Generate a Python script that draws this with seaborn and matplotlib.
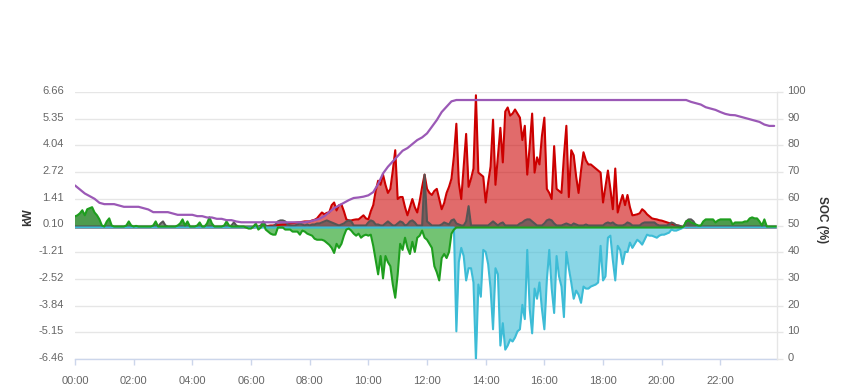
import numpy as np
import matplotlib
matplotlib.use("Agg")
import matplotlib.pyplot as plt
import matplotlib.transforms as mtransforms
import seaborn as sns

# ---------------- data (5-minute samples, kW) ----------------
minutes = np.arange(0, 1440, 5)

solar_kw = [
    0, 0, 0, 0, 0, 0, 0, 0, 0, 0, 0, 0,
    0, 0, 0, 0, 0, 0, 0, 0, 0, 0, 0, 0,
    0, 0, 0, 0, 0, 0, 0, 0, 0, 0, 0, 0,
    0, 0, 0, 0, 0, 0, 0, 0, 0, 0, 0, 0,
    0, 0, 0, 0, 0, 0, 0, 0, 0, 0, 0, 0,
    0, 0, 0, 0, 0, 0, 0, 0, 0, 0, 0, 0,
    0, 0, 0.02, 0.03, 0.04, 0.05, 0.07, 0.08, 0.1, 0.1, 0.12, 0.12,
    0.14, 0.15, 0.15, 0.17, 0.2, 0.22, 0.23, 0.25, 0.26, 0.28, 0.3, 0.3,
    0.3, 0.35, 0.38, 0.45, 0.6, 0.74, 0.65, 0.72, 0.75, 1.1, 1.23, 0.84,
    1.1, 1.13, 0.8, 0.4, 0.35, 0.35, 0.38, 0.4, 0.4, 0.5, 0.6, 0.45,
    0.4, 0.8, 1.1, 1.8, 2.3, 2.1, 2.6, 2.1, 1.7, 1.9, 2.8, 3.8,
    1.4, 1.5, 1.5, 1.0, 0.6, 1.0, 1.4, 1.0, 0.74, 1.3, 2.0, 2.6,
    1.9, 1.7, 1.6, 1.8, 1.9, 1.4, 0.9, 1.2, 1.7, 2.0, 2.4, 3.5,
    5.1, 2.2, 1.4, 3.0, 4.6, 2.0, 2.4, 2.9, 6.5, 2.7, 2.6, 2.5,
    1.23, 2.2, 3.0, 5.3, 2.1, 3.5, 4.9, 3.2, 5.7, 5.9, 5.5, 5.6,
    5.8, 5.6, 5.4, 4.3, 5.0, 2.6, 4.0, 5.6, 2.7, 3.45, 3.1, 4.5,
    5.4, 1.9, 1.7, 1.4, 4.0, 1.9, 1.8, 1.7, 3.5, 5.0, 1.5, 3.8,
    3.55, 2.5, 1.7, 2.8, 3.7, 3.3, 3.1, 3.1, 3.0, 2.9, 2.8, 2.7,
    1.23, 2.0, 2.8, 1.9, 0.9, 2.9, 0.74, 1.2, 1.6, 1.1, 1.6, 1.0,
    0.6, 0.62, 0.65, 0.7, 0.9, 0.8, 0.65, 0.55, 0.45, 0.42, 0.4, 0.36,
    0.34, 0.3, 0.26, 0.22, 0.2, 0.15, 0.12, 0.08, 0.05, 0.02, 0, 0,
    0, 0, 0, 0, 0, 0, 0, 0, 0, 0, 0, 0,
    0, 0, 0, 0, 0, 0, 0, 0, 0, 0, 0, 0,
    0, 0, 0, 0, 0, 0, 0, 0, 0, 0, 0, 0,
]

battery_kw = [
    0.55, 0.6, 0.7, 0.85, 0.6, 0.9, 0.95, 1.0, 0.74, 0.6, 0.4, 0.1,
    0.05, 0.3, 0.45, 0.1, 0.05, 0.05, 0.05, 0.05, 0.05, 0.1, 0.3, 0.1,
    0.05, 0.08, 0.05, 0.05, 0.05, 0.05, 0.05, 0.05, 0.1, 0.3, 0.05, 0.05,
    0.05, 0.05, 0.05, 0.05, 0.05, 0.05, 0.1, 0.2, 0.4, 0.1, 0.3, 0.05,
    0.05, 0.05, 0.1, 0.25, 0.05, 0.05, 0.2, 0.5, 0.2, 0.05, 0.05, 0.05,
    0.05, 0.1, 0.3, 0.1, 0.05, 0.05, 0.05, 0.05, 0.05, 0.05, 0.0, -0.05,
    -0.05, 0.05, 0.2, -0.1, 0.0, 0.25, -0.1, -0.2, -0.3, -0.35, -0.35, 0.0,
    0.0, 0.0, -0.1, -0.1, -0.1, -0.2, -0.2, -0.2, -0.35, -0.15, -0.2, -0.3,
    -0.35, -0.4, -0.55, -0.6, -0.6, -0.6, -0.65, -0.75, -0.85, -1.0, -1.25, -0.8,
    -1.0, -0.8, -0.4, -0.1, -0.05, -0.15, -0.3, -0.4, -0.3, -0.5, -0.4, -0.35,
    -0.4, -0.35, -0.9, -1.6, -2.3, -1.4, -2.5, -1.4, -1.7, -1.9, -2.8, -3.45,
    -2.3, -0.8, -1.1, -0.5, -1.0, -1.3, -0.7, -1.2, -0.5, -0.4, -0.15, -0.5,
    -0.6, -0.8, -1.0, -1.9, -2.2, -2.6, -1.5, -1.3, -1.5, -1.2, -0.3, -0.1,
    0, 0, 0, 0, 0, 0, 0, 0, 0, 0, 0, 0,
    0, 0, 0, 0, 0, 0, 0, 0, 0, 0, 0, 0,
    0, 0, 0, 0, 0, 0, 0, 0, 0, 0, 0, 0,
    0, 0, 0, 0, 0, 0, 0, 0, 0, 0, 0, 0,
    0, 0, 0, 0, 0, 0, 0, 0, 0, 0, 0, 0,
    0, 0, 0, 0, 0, 0, 0, 0, 0, 0, 0, 0,
    0, 0, 0, 0, 0, 0, 0, 0, 0, 0, 0, 0,
    0, 0, 0, 0, 0, 0, 0, 0, 0, 0.05, 0.3, 0.35,
    0.25, 0.2, 0.15, 0.1, 0.1, 0.3, 0.4, 0.4, 0.4, 0.4, 0.25, 0.35,
    0.4, 0.4, 0.4, 0.4, 0.4, 0.15, 0.25, 0.25, 0.25, 0.25, 0.3, 0.3,
    0.45, 0.5, 0.45, 0.45, 0.3, 0.1, 0.4, 0.05, 0.05, 0.05, 0.05, 0.05,
]

grid_kw = [
    0, 0, 0, 0, 0, 0, 0, 0, 0, 0, 0, 0,
    0, 0, 0, 0, 0, 0, 0, 0, 0, 0, 0, 0,
    0, 0, 0, 0, 0, 0, 0, 0, 0, 0, 0, 0,
    0, 0, 0, 0, 0, 0, 0, 0, 0, 0, 0, 0,
    0, 0, 0, 0, 0, 0, 0, 0, 0, 0, 0, 0,
    0, 0, 0, 0, 0, 0, 0, 0, 0, 0, 0, 0,
    0, 0, 0, 0, 0, 0, 0, 0, 0, 0, 0, 0,
    0, 0, 0, 0, 0, 0, 0, 0, 0, 0, 0, 0,
    0, 0, 0, 0, 0, 0, 0, 0, 0, 0, 0, 0,
    0, 0, 0, 0, 0, 0, 0, 0, 0, 0, 0, 0,
    0, 0, 0, 0, 0, 0, 0, 0, 0, 0, 0, 0,
    0, 0, 0, 0, 0, 0, 0, 0, 0, 0, 0, 0,
    0, 0, 0, 0, 0, 0, 0, 0, 0, 0, 0, 0,
    -5.1, -1.7, -1.0, -1.4, -2.6, -2.0, -2.0, -2.7, -6.5, -2.8, -3.4, -1.1,
    -1.2, -1.8, -3.0, -5.0, -2.0, -2.3, -5.8, -4.7, -6.0, -5.8, -5.5, -5.6,
    -5.4, -5.1, -5.0, -3.8, -4.5, -1.1, -4.0, -5.2, -3.0, -3.5, -2.7, -4.0,
    -5.0, -2.6, -1.1, -3.0, -4.2, -1.4, -2.4, -2.9, -4.4, -1.2, -2.0, -2.7,
    -3.5, -3.1, -3.3, -3.7, -2.9, -3.0, -3.0, -2.9, -2.85, -2.8, -2.7, -0.9,
    -2.6, -2.4, -0.5, -0.4, -1.6, -2.6, -0.9, -1.1, -1.8, -1.2, -1.2, -0.74,
    -1.0, -0.8, -0.6, -0.7, -0.84, -0.6, -0.35, -0.4, -0.4, -0.45, -0.5, -0.4,
    -0.35, -0.35, -0.3, -0.25, -0.1, -0.15, -0.15, -0.1, -0.05, 0, 0, 0,
    0, 0, 0, 0, 0, 0, 0, 0, 0, 0, 0, 0,
    0, 0, 0, 0, 0, 0, 0, 0, 0, 0, 0, 0,
    0, 0, 0, 0, 0, 0, 0, 0, 0, 0, 0, 0,
]

import_kw = [
    0.05, 0.05, 0.05, 0.05, 0.05, 0.05, 0.05, 0.05, 0.05, 0.05, 0.05, 0.05,
    0.05, 0.05, 0.05, 0.05, 0.05, 0.05, 0.05, 0.05, 0.05, 0.05, 0.05, 0.05,
    0.05, 0.05, 0.05, 0.05, 0.05, 0.05, 0.05, 0.05, 0.05, 0.05, 0.05, 0.2,
    0.3, 0.1, 0.05, 0.05, 0.05, 0.05, 0.05, 0.05, 0.05, 0.05, 0.05, 0.05,
    0.05, 0.05, 0.05, 0.05, 0.05, 0.05, 0.05, 0.05, 0.05, 0.05, 0.05, 0.05,
    0.05, 0.05, 0.05, 0.05, 0.1, 0.25, 0.1, 0.05, 0.05, 0.05, 0.05, 0.05,
    0.05, 0.05, 0.05, 0.05, 0.1, 0.3, 0.1, 0.05, 0.05, 0.05, 0.15, 0.3,
    0.35, 0.35, 0.3, 0.15, 0.1, 0.1, 0.1, 0.15, 0.2, 0.15, 0.1, 0.15,
    0.1, 0.15, 0.15, 0.2, 0.2, 0.25, 0.3, 0.35, 0.3, 0.25, 0.2, 0.15,
    0.1, 0.15, 0.2, 0.3, 0.35, 0.3, 0.1, 0.1, 0.1, 0.1, 0.1, 0.1,
    0.25, 0.35, 0.3, 0.15, 0.15, 0.1, 0.1, 0.2, 0.3, 0.2, 0.1, 0.1,
    0.2, 0.3, 0.25, 0.1, 0.15, 0.3, 0.35, 0.25, 0.1, 0.1, 0.1, 2.6,
    0.3, 0.2, 0.1, 0.1, 0.1, 0.1, 0.15, 0.25, 0.2, 0.15, 0.35, 0.4,
    0.2, 0.15, 0.1, 0.1, 0.3, 1.05, 0.1, 0.1, 0.1, 0.1, 0.1, 0.1,
    0.1, 0.1, 0.2, 0.3, 0.2, 0.1, 0.2, 0.25, 0.1, 0.1, 0.1, 0.1,
    0.1, 0.1, 0.2, 0.25, 0.35, 0.4, 0.4, 0.3, 0.2, 0.1, 0.1, 0.1,
    0.2, 0.35, 0.4, 0.35, 0.2, 0.1, 0.1, 0.1, 0.15, 0.2, 0.15, 0.1,
    0.2, 0.15, 0.1, 0.1, 0.1, 0.15, 0.1, 0.1, 0.1, 0.1, 0.1, 0.1,
    0.1, 0.2, 0.25, 0.2, 0.25, 0.15, 0.1, 0.1, 0.1, 0.15, 0.25, 0.2,
    0.1, 0.1, 0.1, 0.1, 0.2, 0.25, 0.25, 0.25, 0.25, 0.25, 0.15, 0.1,
    0.1, 0.1, 0.1, 0.15, 0.25, 0.2, 0.1, 0.1, 0.05, 0.05, 0.3, 0.4,
    0.4, 0.3, 0.1, 0.05, 0.05, 0.05, 0.05, 0.05, 0.05, 0.05, 0.05, 0.05,
    0.05, 0.05, 0.05, 0.05, 0.05, 0.05, 0.05, 0.05, 0.05, 0.05, 0.05, 0.05,
    0.05, 0.05, 0.05, 0.05, 0.05, 0.05, 0.05, 0.05, 0.05, 0.05, 0.05, 0.05,
]

# state of charge, 10-minute samples (%)
soc_minutes = np.arange(0, 1440, 10)
soc_pct = [
    65, 63.5, 62, 61, 60, 58.5,
    58, 58, 58, 57.5, 57, 57,
    57, 57, 56.5, 56, 55, 55,
    55, 55, 54.5, 54, 54, 54,
    54, 53.5, 53.5, 53, 53, 52.5,
    52.5, 52, 52, 51.5, 51.2, 51.2,
    51.2, 51.2, 51.2, 51.2, 51.2, 51.2,
    51.2, 51.2, 51.2, 51.2, 51.2, 51.2,
    51.5, 52, 52.5, 53.5, 55, 56.5,
    57.5, 58.5, 59.5, 60.3, 60.5, 60.8,
    61.3, 62.5, 65.5, 69.5, 72, 74,
    76, 78, 79, 80.5, 82, 83,
    84.5, 87, 89.5, 92.5, 94.5, 96.5,
    97, 97, 97, 97, 97, 97,
    97, 97, 97, 97, 97, 97,
    97, 97, 97, 97, 97, 97,
    97, 97, 97, 97, 97, 97,
    97, 97, 97, 97, 97, 97,
    97, 97, 97, 97, 97, 97,
    97, 97, 97, 97, 97, 97,
    97, 97, 97, 97, 97, 97,
    96.3, 95.8, 95.3, 94.3, 93.8, 93.3,
    92.5, 91.8, 91.4, 91.3, 90.8, 90.3,
    89.8, 89.3, 88.8, 87.8, 87.3, 87.3,
]

kw_ticks = [6.66, 5.35, 4.04, 2.72, 1.41, 0.10, -1.21, -2.52, -3.84, -5.15, -6.46]
kw_labels = ["6.66", "5.35", "4.04", "2.72", "1.41", "0.10", "-1.21", "-2.52", "-3.84", "-5.15", "-6.46"]
soc_ticks = [0, 10, 20, 30, 40, 50, 60, 70, 80, 90, 100]
hour_ticks = [0, 2, 4, 6, 8, 10, 12, 14, 16, 18, 20, 22]
hour_labels = ["00:00", "02:00", "04:00", "06:00", "08:00", "10:00",
               "12:00", "14:00", "16:00", "18:00", "20:00", "22:00"]

# ---------------- styling ----------------
sns.set_theme(style="white")
plt.rcParams['font.family'] = ['Liberation Sans', 'DejaVu Sans']

W, H = 849, 390
fig = plt.figure(figsize=(W / 100, H / 100), dpi=100)
x0, x1, yt, yb = 75, 777, 92, 359
ax = fig.add_axes([x0 / W, 1 - yb / H, (x1 - x0) / W, (yb - yt) / H])
ax2 = ax.twinx()

hrs = minutes / 60.0
soc_hrs = soc_minutes / 60.0
solar = np.array(solar_kw, dtype=float)
batt = np.array(battery_kw, dtype=float)
grid = np.array(grid_kw, dtype=float)
imp = np.array(import_kw, dtype=float)

RED = "#cc0000"
GREEN = "#1e9e1e"
CYAN = "#3dbcd6"
GRAY = "#555555"
PURPLE = "#9b59b6"

# fills
ax.fill_between(hrs, solar, 0, color=RED, alpha=0.58, linewidth=0, zorder=2)
ax.fill_between(hrs, grid, 0, color=CYAN, alpha=0.6, linewidth=0, zorder=2)
ax.fill_between(hrs, batt, 0, where=batt <= 0, interpolate=True,
                color=GREEN, alpha=0.62, linewidth=0, zorder=2)
ax.fill_between(hrs, batt, 0, where=batt >= 0, interpolate=True,
                color="#2f8a2f", alpha=0.85, linewidth=0, zorder=2)
ax.fill_between(hrs, imp, 0, color=GRAY, alpha=0.7, linewidth=0, zorder=3)

# lines via seaborn
lw = 1.5
sns.lineplot(x=hrs, y=solar, ax=ax, color=RED, linewidth=lw, zorder=4)
sns.lineplot(x=hrs, y=imp, ax=ax, color=GRAY, linewidth=lw, zorder=4.2)
sns.lineplot(x=hrs, y=grid, ax=ax, color=CYAN, linewidth=lw, zorder=4.4)
sns.lineplot(x=hrs, y=batt, ax=ax, color=GREEN, linewidth=lw, zorder=4.6)
sns.lineplot(x=soc_hrs, y=soc_pct, ax=ax2, color=PURPLE, linewidth=1.6, zorder=6)

ax.set_xlim(0, 23.93)
ax.set_ylim(-6.46, 6.66)
ax2.set_ylim(0, 100)

ax.set_yticks(kw_ticks)
ax.set_yticklabels(kw_labels)
ax2.set_yticks(soc_ticks)
ax2.set_yticklabels([str(v) for v in soc_ticks])
ax.set_xticks(hour_ticks)
ax.set_xticklabels(hour_labels)

ax.grid(False)
ax2.grid(False)
ax.yaxis.grid(True, color="#e6e6e6", linewidth=1.0, zorder=0)
ax.set_axisbelow(True)

for a in (ax, ax2):
    for s in ("top", "left"):
        a.spines[s].set_visible(False)
ax.spines["right"].set_visible(False)
ax2.spines["bottom"].set_visible(False)
ax2.spines["right"].set_color("#e6e6e6")
ax2.spines["right"].set_linewidth(1.0)
ax.spines["bottom"].set_color("#ccd6eb")
ax.spines["bottom"].set_linewidth(1.0)

ax.tick_params(axis="x", colors="#ccd6eb", length=4, width=1, direction="out",
               labelcolor="#666666", labelsize=8, pad=8, bottom=True)
ax.tick_params(axis="y", length=0, labelcolor="#666666", labelsize=8, pad=8)
ax2.tick_params(axis="y", colors="#e6e6e6", length=4.5, width=1, direction="out",
                labelcolor="#666666", labelsize=8, pad=3, right=True)

# tick labels sit ~2 px above their grid lines
up = mtransforms.ScaledTranslation(0, 2 / 100, fig.dpi_scale_trans)
for t in ax.yaxis.get_major_ticks():
    t.label1.set_transform(t.label1.get_transform() + up)
for t in ax2.yaxis.get_major_ticks():
    t.label2.set_transform(t.label2.get_transform() + up)

ax.set_xlabel("")
ax.set_ylabel("kW", fontsize=8.5, fontweight="bold", color="#333333")
ax.yaxis.set_label_coords((34 - x0) / (x1 - x0), (yb - 217) / (yb - yt))
ax2.set_ylabel("SOC (%)", fontsize=8.5, fontweight="bold", color="#333333",
               rotation=270, va="center")
ax2.yaxis.set_label_coords((822 - x0) / (x1 - x0), (yb - 220) / (yb - yt))

fig.savefig("out.png", dpi=100)
